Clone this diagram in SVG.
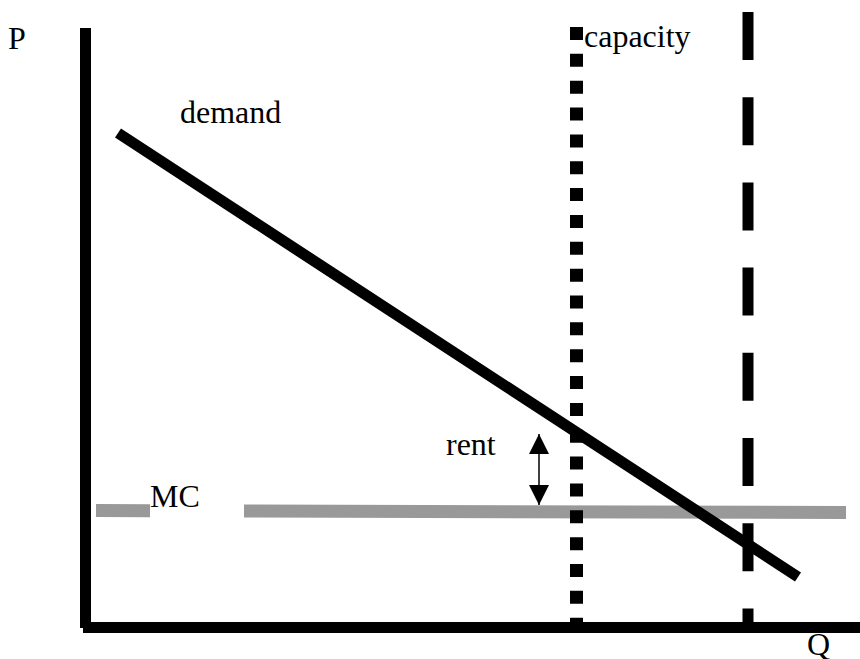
<svg xmlns="http://www.w3.org/2000/svg" width="860" height="659" viewBox="0 0 860 659">
<style>
text{font-family:"Liberation Serif","Times New Roman",serif;font-size:32px;fill:#000}
.axis{stroke:#000;stroke-width:11;fill:none}
.mc{stroke:#999;stroke-width:13;fill:none}
</style>
<defs>
<marker id="ah" viewBox="0 0 20 20" refX="20" refY="10" markerWidth="20" markerHeight="20" markerUnits="userSpaceOnUse" orient="auto-start-reverse">
<path d="M0,0 L20,10 L0,20 Z" fill="#000"/>
</marker>
</defs>
<g id="connectors">
<line id="mc-left" class="mc" x1="96" y1="510.5" x2="150" y2="510.8"/>
<line id="mc-right" class="mc" x1="244" y1="511" x2="846" y2="512.5"/>
<line id="capacity-line" x1="576.5" y1="27" x2="576.5" y2="628" stroke="#000" stroke-width="13" stroke-dasharray="13 13.85"/>
<line id="dashed-line" x1="748" y1="12" x2="748" y2="628" stroke="#000" stroke-width="11" stroke-dasharray="48 37.2"/>
<line id="demand-line" x1="118" y1="133" x2="798" y2="577" stroke="#000" stroke-width="11"/>
<line id="y-axis" class="axis" x1="85.5" y1="28" x2="85.5" y2="628"/>
<line id="x-axis" class="axis" x1="83" y1="627.5" x2="860" y2="627.5"/>
<line id="rent-arrow" x1="539" y1="434" x2="539" y2="505" stroke="#000" stroke-width="1.5" marker-start="url(#ah)" marker-end="url(#ah)"/>
</g>
<g id="label-P"><text x="8" y="49">P</text></g>
<g id="label-capacity"><text x="584" y="47">capacity</text></g>
<g id="label-demand"><text x="180" y="123">demand</text></g>
<g id="label-rent"><text x="446" y="455">rent</text></g>
<g id="label-MC"><text x="150" y="507">MC</text></g>
<g id="label-Q"><text x="807" y="655">Q</text></g>
</svg>
